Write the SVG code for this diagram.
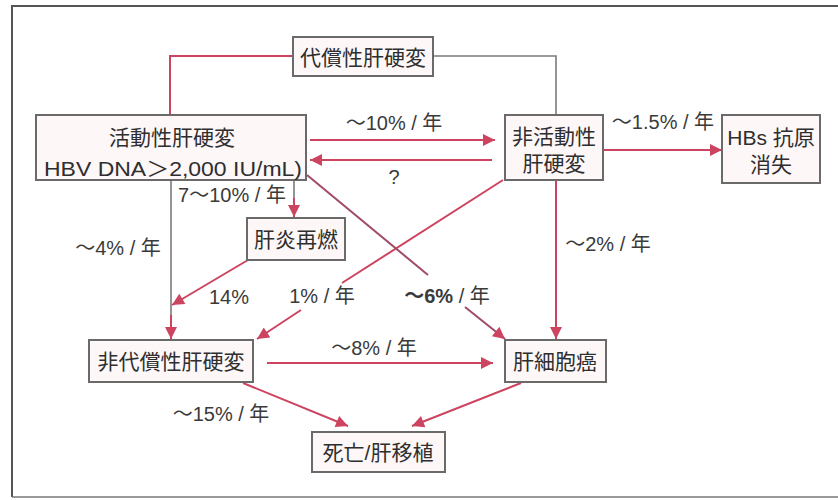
<svg xmlns="http://www.w3.org/2000/svg" width="838" height="500" viewBox="0 0 838 500">
<defs>
<style>
.box{fill:#fdf7f8;stroke:#6a6a6a;stroke-width:2}
.bt{font-family:"Liberation Sans","Noto Sans CJK JP",sans-serif;font-size:21px;fill:#2e2e2e;text-anchor:middle;dominant-baseline:central}
.lb{font-family:"Liberation Sans","Noto Sans CJK JP",sans-serif;font-size:20px;fill:#3a3a3a;text-anchor:middle;dominant-baseline:central}
.red{stroke:#cc4460;stroke-width:2;fill:none}
.gray{stroke:#7a7a7a;stroke-width:1.6;fill:none}
.mauve{stroke:#a04a68;stroke-width:2;fill:none}
</style>
<marker id="ah" viewBox="0 0 10 10" refX="10" refY="5" markerWidth="8" markerHeight="6" orient="auto" markerUnits="strokeWidth">
<path d="M0,0 L10,5 L0,10 z" fill="#cc4460"/>
</marker>
</defs>
<rect width="838" height="500" fill="#ffffff"/>
<path d="M12,497 L12,6 L840,6" fill="none" stroke="#555" stroke-width="2"/>
<line x1="12" y1="497" x2="840" y2="497" stroke="#777" stroke-width="1.5"/>

<g id="connectors">
<path class="red" d="M293,56 L170,56 L170,115"/>
<path class="gray" d="M433,56 L556,56 L556,115"/>
<line class="red" x1="310" y1="140" x2="495" y2="140" marker-end="url(#ah)"/>
<line class="red" x1="492" y1="160" x2="310" y2="160" marker-end="url(#ah)"/>
<line class="red" x1="603" y1="150" x2="722" y2="150" marker-end="url(#ah)"/>
<line class="gray" x1="294" y1="180" x2="294" y2="200"/>
<line class="red" x1="294" y1="198" x2="294" y2="217" marker-end="url(#ah)"/>
<line class="gray" x1="171" y1="180" x2="171" y2="320"/>
<line class="red" x1="171" y1="315" x2="171" y2="339" marker-end="url(#ah)"/>
<line class="red" x1="248" y1="260" x2="172" y2="305" marker-end="url(#ah)"/>
<line class="red" x1="503" y1="180" x2="342" y2="283"/>
<line class="red" x1="301" y1="310" x2="257" y2="339" marker-end="url(#ah)"/>
<line class="mauve" x1="307" y1="175" x2="428" y2="275"/>
<line class="mauve" x1="465" y1="307" x2="505" y2="339" marker-end="url(#ah)"/>
<line class="red" x1="556" y1="180" x2="556" y2="339" marker-end="url(#ah)"/>
<line class="red" x1="267" y1="363" x2="493" y2="363" marker-end="url(#ah)"/>
<line class="red" x1="243" y1="383" x2="348" y2="426" marker-end="url(#ah)"/>
<line class="red" x1="521" y1="383" x2="412" y2="426" marker-end="url(#ah)"/>
</g>

<g id="labels">
<text class="lb" x="394" y="123">～10% / 年</text>
<text class="lb" x="394" y="177">?</text>
<text class="lb" x="663" y="122">～1.5% / 年</text>
<text class="lb" x="232" y="195">7～10% / 年</text>
<text class="lb" x="118" y="248">～4% / 年</text>
<text class="lb" x="229" y="297">14%</text>
<text class="lb" x="322" y="296">1% / 年</text>
<text class="lb" x="447" y="296"><tspan font-weight="bold">～6%</tspan> / 年</text>
<text class="lb" x="608" y="244">～2% / 年</text>
<text class="lb" x="374" y="348">～8% / 年</text>
<text class="lb" x="221" y="414">～15% / 年</text>
</g>

<g id="n-compensated">
<rect class="box" x="293" y="37" width="140" height="39"/>
<text class="bt" x="363" y="57">代償性肝硬変</text>
</g>
<g id="n-active">
<rect class="box" x="36" y="115" width="270" height="65"/>
<text class="bt" x="172" y="137">活動性肝硬変</text>
<text class="bt" x="173" y="168" textLength="258" lengthAdjust="spacingAndGlyphs">HBV DNA＞2,000 IU/mL)</text>
</g>
<g id="n-inactive">
<rect class="box" x="505" y="115" width="98" height="65"/>
<text class="bt" x="554" y="136">非活動性</text>
<text class="bt" x="554" y="163">肝硬変</text>
</g>
<g id="n-hbs">
<rect class="box" x="722" y="115" width="98" height="68"/>
<text class="bt" x="771" y="137">HBs 抗原</text>
<text class="bt" x="771" y="164">消失</text>
</g>
<g id="n-flare">
<rect class="box" x="247" y="218" width="98" height="42"/>
<text class="bt" x="296" y="239">肝炎再燃</text>
</g>
<g id="n-decompensated">
<rect class="box" x="89" y="340" width="164" height="42"/>
<text class="bt" x="171" y="361">非代償性肝硬変</text>
</g>
<g id="n-hcc">
<rect class="box" x="505" y="340" width="101" height="42"/>
<text class="bt" x="555" y="361">肝細胞癌</text>
</g>
<g id="n-death">
<rect class="box" x="312" y="432" width="133" height="40"/>
<text class="bt" x="378" y="452">死亡/肝移植</text>
</g>
</svg>
